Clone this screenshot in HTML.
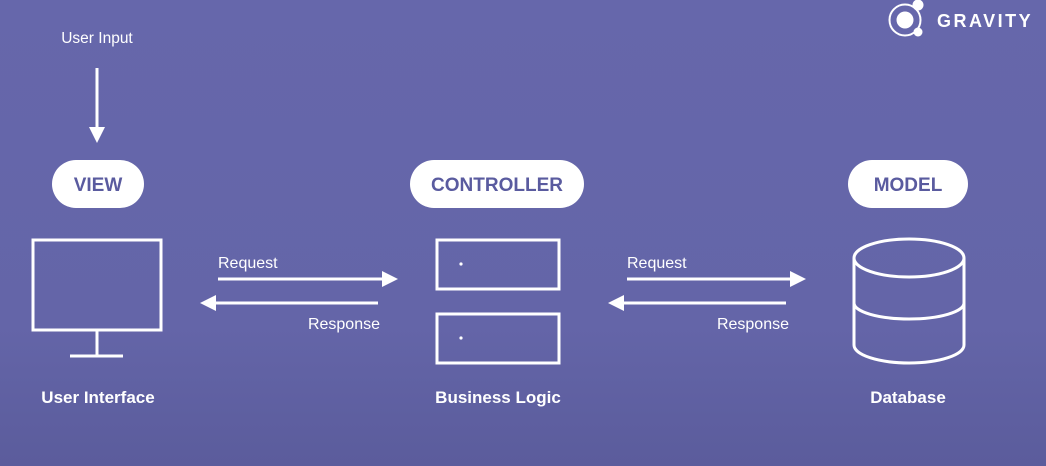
<!DOCTYPE html>
<html><head><style>
html,body{margin:0;padding:0;}
body{width:1046px;height:466px;overflow:hidden;background:linear-gradient(180deg,#6667ab 0%,#6465a8 70%,#5b5c9c 100%);font-family:"Liberation Sans",sans-serif;}
</style></head><body>
<svg width="1046" height="466" xmlns="http://www.w3.org/2000/svg" style="position:absolute;left:0;top:0">
<circle cx="905" cy="20" r="15.5" fill="none" stroke="#fff" stroke-width="2"/>
<circle cx="905" cy="20" r="8.5" fill="#fff"/>
<circle cx="918" cy="5" r="5.5" fill="#fff"/>
<circle cx="918" cy="32" r="4.5" fill="#fff"/>
<text x="937" y="27" fill="#fff" font-family="Liberation Sans" font-weight="bold" font-size="18" letter-spacing="2.5">GRAVITY</text>

<text x="97" y="43" fill="#fff" font-size="15.5" text-anchor="middle">User Input</text>
<line x1="97" y1="68" x2="97" y2="130" stroke="#fff" stroke-width="3"/>
<polygon points="89,127 105,127 97,143" fill="#fff"/>

<rect x="52" y="160" width="92" height="48" rx="24" fill="#fff"/>
<text x="98" y="191" fill="#5a5b9f" font-weight="bold" font-size="19" text-anchor="middle">VIEW</text>
<rect x="410" y="160" width="174" height="48" rx="24" fill="#fff"/>
<text x="497" y="191" fill="#5a5b9f" font-weight="bold" font-size="19" text-anchor="middle">CONTROLLER</text>
<rect x="848" y="160" width="120" height="48" rx="24" fill="#fff"/>
<text x="908" y="191" fill="#5a5b9f" font-weight="bold" font-size="19" text-anchor="middle">MODEL</text>

<g fill="none" stroke="#fff" stroke-width="3">
<rect x="33" y="240" width="128" height="90"/>
<line x1="97" y1="330" x2="97" y2="355"/>
<line x1="70" y1="356" x2="123" y2="356"/>
<rect x="437" y="240" width="122" height="49"/>
<rect x="437" y="314" width="122" height="49"/>
<path d="M854,258 A55,19 0 0 1 964,258 A55,19 0 0 1 854,258 Z"/>
<path d="M854,258 V345 A55,18 0 0 0 964,345 V258"/>
<path d="M854,303 A55,16 0 0 0 964,303"/>
<line x1="218" y1="279" x2="385" y2="279"/>
<line x1="213" y1="303" x2="378" y2="303"/>
<line x1="627" y1="279" x2="793" y2="279"/>
<line x1="621" y1="303" x2="786" y2="303"/>
</g>
<polygon points="382,271 398,279 382,287" fill="#fff"/>
<polygon points="216,295 200,303 216,311" fill="#fff"/>
<polygon points="790,271 806,279 790,287" fill="#fff"/>
<polygon points="624,295 608,303 624,311" fill="#fff"/>
<circle cx="461" cy="264" r="1.6" fill="#fff"/>
<circle cx="461" cy="338" r="1.6" fill="#fff"/>

<g fill="#fff" font-size="16">
<text x="218" y="268">Request</text>
<text x="380" y="329" text-anchor="end">Response</text>
<text x="627" y="268">Request</text>
<text x="789" y="329" text-anchor="end">Response</text>
</g>
<g fill="#fff" font-size="17" font-weight="bold" text-anchor="middle">
<text x="98" y="403">User Interface</text>
<text x="498" y="403">Business Logic</text>
<text x="908" y="403">Database</text>
</g>
</svg>
</body></html>
